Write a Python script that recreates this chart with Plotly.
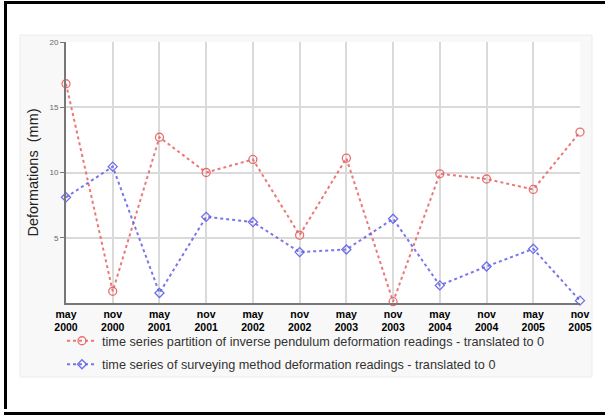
import plotly.graph_objects as go

categories = ["may<br>2000", "nov<br>2000", "may<br>2001", "nov<br>2001", "may<br>2002", "nov<br>2002",
              "may<br>2003", "nov<br>2003", "may<br>2004", "nov<br>2004", "may<br>2005", "nov<br>2005"]
pendulum = [16.8, 0.9, 12.7, 10.0, 11.0, 5.2, 11.1, 0.1, 9.9, 9.5, 8.7, 13.1]
surveying = [8.1, 10.45, 0.77, 6.6, 6.2, 3.9, 4.1, 6.45, 1.35, 2.8, 4.15, 0.18]
y_ticks = [5, 10, 15, 20]
name_pendulum = "time series partition of inverse pendulum deformation readings - translated to 0"
name_surveying = "time series of surveying method deformation readings - translated to 0"

W, H = 605, 415
L, R, T, B = 66, 580, 42, 303

def px(x):
    return (x - L) / (R - L)

def py(y):
    return (B - y) / (B - T)

fig = go.Figure()
fig.add_trace(go.Scatter(
    x=list(range(len(categories))), y=pendulum, name=name_pendulum, mode="lines+markers",
    legendgroup="a",
    line=dict(color="rgba(232,95,95,0.85)", width=2, dash="dot"),
    marker=dict(symbol="circle-open", size=8, color="rgba(232,95,95,0.9)", line=dict(width=1.3)),
    cliponaxis=False))
fig.add_trace(go.Scatter(
    x=list(range(len(categories))), y=surveying, name=name_surveying, mode="lines+markers",
    legendgroup="b",
    line=dict(color="rgba(95,95,232,0.85)", width=2, dash="dot"),
    marker=dict(symbol="diamond-open", size=7, color="rgba(95,95,232,0.9)", line=dict(width=1.3)),
    cliponaxis=False))

shapes = [
    dict(type="rect", xref="paper", yref="paper", x0=px(20), x1=px(592), y0=py(377), y1=py(35),
         fillcolor="#f8f8f8", line=dict(color="#ececec", width=1), layer="below"),
    dict(type="rect", xref="paper", yref="paper", x0=0, x1=1, y0=0, y1=1,
         fillcolor="white", line=dict(width=0), layer="below"),
    dict(type="rect", xref="paper", yref="paper", x0=px(4), x1=px(605), y0=py(4), y1=py(1),
         fillcolor="black", line=dict(width=0)),
    dict(type="rect", xref="paper", yref="paper", x0=px(4), x1=px(7), y0=py(409), y1=py(1),
         fillcolor="black", line=dict(width=0)),
    dict(type="rect", xref="paper", yref="paper", x0=px(4), x1=px(605), y0=py(415), y1=py(412),
         fillcolor="black", line=dict(width=0)),
]

fig.update_layout(
    width=W, height=H,
    margin=dict(l=L, r=W - R, t=T, b=H - B),
    paper_bgcolor="white", plot_bgcolor="rgba(0,0,0,0)",
    font=dict(family="Liberation Sans, Arial, sans-serif", color="#222"),
    shapes=shapes,
    showlegend=True,
    legend=dict(x=px(62), y=py(326), xanchor="left", yanchor="top",
                bgcolor="rgba(0,0,0,0)", font=dict(size=12.7, color="#333"),
                itemwidth=30, traceorder="grouped", tracegroupgap=4),
    xaxis=dict(
        range=[0, len(categories) - 1], tickmode="array",
        tickvals=list(range(len(categories))),
        ticktext=["<b>" + c.replace("<br>", "</b><br><b>") + "</b>" for c in categories],
        tickfont=dict(size=10.5, color="black"),
        showgrid=True, gridcolor="#dadada", gridwidth=1.5,
        showline=True, linecolor="#777", linewidth=2,
        ticks="", zeroline=False),
    yaxis=dict(
        range=[0, 20], tickmode="array", tickvals=y_ticks, ticktext=[str(v) for v in y_ticks],
        tickfont=dict(size=8, color="#666"),
        showgrid=True, gridcolor="#dadada", gridwidth=1.5,
        showline=True, linecolor="#777", linewidth=2,
        ticks="outside", ticklen=4, tickcolor="#777", zeroline=False,
        title=dict(text="Deformations  (mm)", font=dict(size=14.5, color="#222"), standoff=7)),
)

fig.write_html("out.html", config={"displayModeBar": False},
               post_script="document.body.style.margin='0';document.body.style.overflow='hidden';"
                           "document.documentElement.style.overflow='hidden';"
                           "document.body.style.background='white';")
